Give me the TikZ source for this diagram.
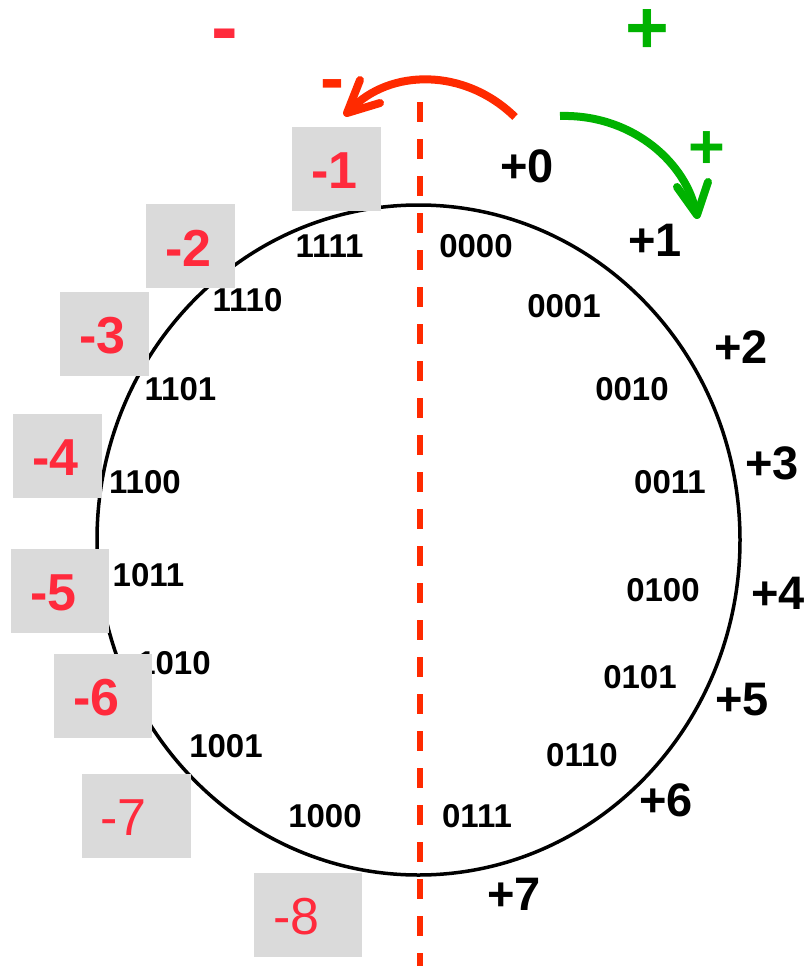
\documentclass[tikz,border=0pt]{standalone}
\usepackage{fontspec}
\setmainfont{Liberation Sans}
\usetikzlibrary{shapes.geometric}
\definecolor{lblred}{RGB}{255,42,60}
\definecolor{arrred}{RGB}{255,42,0}
\definecolor{grn}{RGB}{0,178,0}
\definecolor{boxgray}{RGB}{218,218,218}
\tikzset{
  bin/.style={font=\fontsize{33}{33}\selectfont\bfseries, inner sep=0pt},
  posl/.style={font=\fontsize{47}{47}\selectfont\bfseries, inner sep=0pt},
  negbox/.style={fill=boxgray, draw=none, inner sep=0pt, minimum height=84pt},
  negl/.style={font=\fontsize{52}{52}\selectfont\bfseries, text=lblred, inner sep=0pt, anchor=west},
  neglr/.style={font=\fontsize{52}{52}\selectfont, text=lblred, inner sep=0pt, anchor=west},
  thickarrow/.style={line width=8pt},
  barb/.style={line width=8pt, line cap=round, line join=round},
}
\begin{document}
\begin{tikzpicture}[x=1pt,y=-1pt]
\useasboundingbox (0,0) rectangle (804,966);
% ring
\node (ring) [ellipse, draw, line width=3.5pt, minimum width=643pt, minimum height=670pt, inner sep=0pt] at (418.5,540) {};
% dashed divider
\coordinate (dtop) at (420,102);
\coordinate (dbot) at (420,966);
\draw[arrred, line width=5.5pt, dash pattern=on 20pt off 17pt] (dtop) -- (dbot);
% binary codes
\node[bin] (c0000) at (476,246) {0000};
\node[bin] (c0001) at (564,306) {0001};
\node[bin] (c0010) at (632,389) {0010};
\node[bin] (c0011) at (670,482) {0011};
\node[bin] (c0100) at (663,590) {0100};
\node[bin] (c0101) at (640,677) {0101};
\node[bin] (c0110) at (582,755) {0110};
\node[bin] (c0111) at (477,816) {0111};
\node[bin] (c1000) at (325,816) {1000};
\node[bin] (c1001) at (226,746) {1001};
\node[bin] (c1010) at (174,663) {1010};
\node[bin] (c1011) at (148.5,575) {1011};
\node[bin] (c1100) at (145,482) {1100};
\node[bin] (c1101) at (180.5,389) {1101};
\node[bin] (c1110) at (247.5,300) {1110};
\node[bin] (c1111) at (329.5,246.5) {1111};
% positive values
\node[posl] (p0) at (527,166) {+0};
\node[posl] (p1) at (655,240) {+1};
\node[posl] (p2) at (741,347) {+2};
\node[posl] (p3) at (772,463) {+3};
\node[posl] (p4) at (778,593) {+4};
\node[posl] (p5) at (742,700) {+5};
\node[posl] (p6) at (666,800) {+6};
\node[posl] (p7) at (514,894) {+7};
% negative values in grey boxes
\node[negbox, minimum width=89pt] (b1) at (336.5,169) {};
\node[negbox, minimum width=89pt] (b2) at (190.5,246) {};
\node[negbox, minimum width=89pt] (b3) at (104.5,334) {};
\node[negbox, minimum width=89pt] (b4) at (57.5,456) {};
\node[negbox, minimum width=98pt] (b5) at (60,591) {};
\node[negbox, minimum width=98pt] (b6) at (103,696) {};
\node[negbox, minimum width=109pt] (b7) at (136.5,816) {};
\node[negbox, minimum width=108pt] (b8) at (308,915) {};
\node[negl] (n1) at ([xshift=19pt,yshift=-2pt]b1.west) {-1};
\node[negl] (n2) at ([xshift=19pt,yshift=-2pt]b2.west) {-2};
\node[negl] (n3) at ([xshift=19pt,yshift=-2pt]b3.west) {-3};
\node[negl] (n4) at ([xshift=19pt,yshift=-2pt]b4.west) {-4};
\node[negl] (n5) at ([xshift=19pt,yshift=-2pt]b5.west) {-5};
\node[negl] (n6) at ([xshift=19pt,yshift=-2pt]b6.west) {-6};
\node[neglr] (n7) at ([xshift=18pt,yshift=-2pt]b7.west) {-7};
\node[neglr] (n8) at ([xshift=19pt,yshift=-2pt]b8.west) {-8};
% direction signs
\node[font=\fontsize{80}{80}\selectfont\bfseries, text=lblred, inner sep=0pt, anchor=base] (minusbig) at (225,55) {-};
\node[font=\fontsize{75}{75}\selectfont\bfseries, text=grn, inner sep=0pt, anchor=base] (plusbig) at (647,53.5) {+};
\node[font=\fontsize{72}{72}\selectfont\bfseries, text=arrred, inner sep=0pt, anchor=base] (minussmall) at (332,102.5) {-};
\node[font=\fontsize{63}{63}\selectfont\bfseries, text=grn, inner sep=0pt, anchor=base] (plussmall) at (706.5,168.7) {+};
% red arrow (counter-clockwise)
\coordinate (rs) at (515,117);
\coordinate (rt) at (347,113);
\coordinate (rb1) at (360,80);
\coordinate (rb2) at (380,103);
\draw[arrred, thickarrow] (rs) .. controls (465,68) and (390,68) .. (350,110);
\draw[arrred, barb] (rb1) -- (rt) -- (rb2);
% green arrow (clockwise)
\coordinate (gs) at (560,116);
\coordinate (gt) at (697,215);
\coordinate (gb1) at (677,187);
\coordinate (gb2) at (708,182);
\draw[grn, thickarrow] (gs) .. controls (630,114) and (683,160) .. (695,208);
\draw[grn, barb] (gb1) -- (gt) -- (gb2);
\end{tikzpicture}
\end{document}
